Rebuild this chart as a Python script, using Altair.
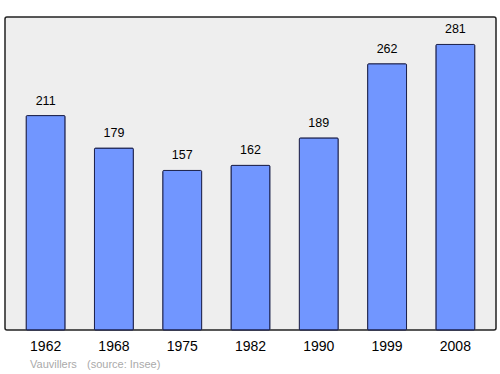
import altair as alt
import pandas as pd

years = ["1962", "1968", "1975", "1982", "1990", "1999", "2008"]
population = [211, 179, 157, 162, 189, 262, 281]
footer_texts = ["Vauvillers", "(source: Insee)"]

df = pd.DataFrame({"year": years, "pop": population})

FONT = "Liberation Sans"

x = alt.X("year:N", sort=years, title=None,
          scale=alt.Scale(paddingInner=0.43, paddingOuter=0.31),
          axis=alt.Axis(labelAngle=0, labelFontSize=14, labelFont=FONT, labelColor="#000",
                        domain=False, ticks=False, labelPadding=9))
y = alt.Y("pop:Q", scale=alt.Scale(domain=[0, 308], nice=False), axis=None)

bars = alt.Chart(df).mark_bar(color="#7196ff", stroke="#1a1f4a", strokeWidth=1,
                              cornerRadius=1).encode(x=x, y=y)
labels = alt.Chart(df).mark_text(baseline="bottom", dy=-8, fontSize=12.5, font=FONT,
                                 color="#000").encode(x=x, y=y, text="pop:Q")

def foot(t, xpos):
    return alt.Chart(pd.DataFrame({"t": [t]})).mark_text(
        align="left", baseline="middle", fontSize=11, font=FONT, color="#aaaaaa"
    ).encode(x=alt.value(xpos), y=alt.value(348), text="t:N")

chart = alt.layer(bars, labels, foot(footer_texts[0], 25), foot(footer_texts[1], 82)).properties(
    width=491, height=313,
    padding={"left": 5, "top": 17, "right": 4, "bottom": 44},
    autosize=alt.AutoSizeParams(type="none"),
    background="white",
).configure_view(fill="#eeeeee", stroke="#222222", strokeWidth=1.5, cornerRadius=2)

chart.save("out.html", embed_options={"renderer": "svg", "actions": False})
